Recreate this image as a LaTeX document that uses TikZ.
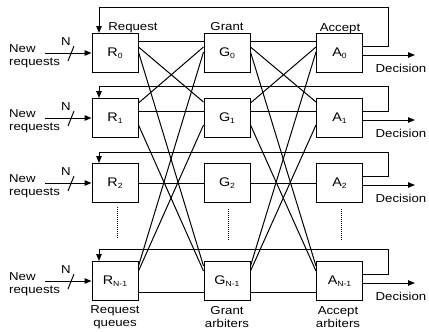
\documentclass[tikz,border=0pt]{standalone}
\usepackage{fontspec}
\setmainfont{Liberation Sans}[FakeStretch=1.15]
\usetikzlibrary{arrows.meta,calc}
\newcommand{\mysub}[1]{\raisebox{-0.3ex}{\fontsize{7.5}{7.5}\selectfont #1}}
\begin{document}
\begin{tikzpicture}[x=1pt,y=-1pt,
  box/.style={draw,line width=1pt,minimum width=46pt,minimum height=39pt,inner sep=0pt,font=\fontsize{12.5}{13}\selectfont},
  ln/.style={line width=1pt},
  arr/.style={ln,-{Triangle[length=7pt,width=5.5pt]}},
  lab/.style={font=\fontsize{11.5}{12.5}\selectfont,align=center,inner sep=0pt},
  dots/.style={densely dotted,line width=1pt}
]
\useasboundingbox (0,0) rectangle (429,332);

% boxes
\node[box] (R0) at (115,53) {R\mysub{0}};
\node[box] (R1) at (115,118) {R\mysub{1}};
\node[box] (R2) at (115,183) {R\mysub{2}};
\node[box] (RN) at (115,281) {R\mysub{N-1}};
\node[box] (G0) at (227,53) {G\mysub{0}};
\node[box] (G1) at (227,118) {G\mysub{1}};
\node[box] (G2) at (227,183) {G\mysub{2}};
\node[box] (GN) at (227,281) {G\mysub{N-1}};
\node[box] (A0) at (339.5,53) {A\mysub{0}};
\node[box] (A1) at (339.5,118) {A\mysub{1}};
\node[box] (A2) at (339.5,183) {A\mysub{2}};
\node[box] (AN) at (339.5,281) {A\mysub{N-1}};

% request -> grant links
\draw[ln] ([yshift=12pt]R0.east) -- ([yshift=12pt]G0.west);
\draw[ln] ([yshift=6pt]R0.east) -- ([yshift=16pt]G1.west);
\draw[ln] ([yshift=1pt]R0.east) -- ([yshift=15pt]GN.west);
\draw[ln] ([yshift=15pt]R1.east) -- ([yshift=6pt]G0.west);
\draw[ln] ([yshift=7pt]R1.east) -- ([yshift=7pt]G1.west);
\draw[ln] ([yshift=-7pt]R1.east) -- ([yshift=10pt]GN.west);
\draw[ln] (R2.east) -- (G2.west);
\draw[ln] ([yshift=15pt]RN.east) -- ([yshift=1pt]G0.west);
\draw[ln] ([yshift=10pt]RN.east) -- ([yshift=-7pt]G1.west);
\draw[ln] ([yshift=-11pt]RN.east) -- ([yshift=-11pt]GN.west);

% grant -> accept links
\draw[ln] ([yshift=12pt]G0.east) -- ([yshift=12pt]A0.west);
\draw[ln] ([yshift=6pt]G0.east) -- ([yshift=16pt]A1.west);
\draw[ln] ([yshift=1pt]G0.east) -- ([yshift=15pt]AN.west);
\draw[ln] ([yshift=15pt]G1.east) -- ([yshift=6pt]A0.west);
\draw[ln] ([yshift=7pt]G1.east) -- ([yshift=7pt]A1.west);
\draw[ln] ([yshift=-7pt]G1.east) -- ([yshift=10pt]AN.west);
\draw[ln] (G2.east) -- (A2.west);
\draw[ln] ([yshift=15pt]GN.east) -- ([yshift=1pt]A0.west);
\draw[ln] ([yshift=10pt]GN.east) -- ([yshift=-7pt]A1.west);
\draw[ln] ([yshift=-11pt]GN.east) -- ([yshift=-11pt]AN.west);

% feedback loops
\coordinate (F0) at (388,7);
\coordinate (F1) at (388,86);
\coordinate (F2) at (388,152);
\coordinate (FN) at (388,249);
\draw[arr] ([yshift=7pt]A0.east) -| (F0) -| ([xshift=-16pt]R0.north);
\draw[arr] ([yshift=7pt]A1.east) -| (F1) -| ([xshift=-16pt]R1.north);
\draw[arr] ([yshift=7pt]A2.east) -| (F2) -| ([xshift=-16pt]R2.north);
\draw[arr] ([yshift=7pt]AN.east) -| (FN) -| ([xshift=-16pt]RN.north);

% decisions
\coordinate (D0) at (415,55);
\coordinate (D1) at (415,120);
\coordinate (D2) at (415,185);
\coordinate (DN) at (415,283);
\draw[arr] ([yshift=-2pt]A0.east) -- (D0);
\draw[arr] ([yshift=-2pt]A1.east) -- (D1);
\draw[arr] ([yshift=-2pt]A2.east) -- (D2);
\draw[arr] ([yshift=-2pt]AN.east) -- (DN);
\node[lab] (dec0) at (401,68) {Decision};
\node[lab] (dec1) at (401,133) {Decision};
\node[lab] (dec2) at (401,198) {Decision};
\node[lab] (decN) at (401,296) {Decision};

% inputs
\coordinate (I0) at (45,53);
\coordinate (I1) at (45,118);
\coordinate (I2) at (45,183);
\coordinate (IN) at (45,281);
\draw[arr] (I0) -- (R0.west);
\draw[arr] (I1) -- (R1.west);
\draw[arr] (I2) -- (R2.west);
\draw[arr] (IN) -- (RN.west);
\foreach \c in {53,118,183,281}{
  \draw[ln] (68,\c+8) -- (74,\c-7);
}
\node[lab] (n0) at (66,42) {N};
\node[lab] (n1) at (66,107) {N};
\node[lab] (n2) at (66,172) {N};
\node[lab] (nN) at (66,270) {N};
\node[lab,align=left,anchor=west] (new0) at (9,56) {New\\requests};
\node[lab,align=left,anchor=west] (new1) at (9,121) {New\\requests};
\node[lab,align=left,anchor=west] (new2) at (9,186) {New\\requests};
\node[lab,align=left,anchor=west] (newN) at (9,284) {New\\requests};

% column titles
\node[lab] (treq) at (133,28) {Request};
\node[lab] (tgr) at (227,27) {Grant};
\node[lab] (tacc) at (340,29) {Accept};
\node[lab] (breq) at (115,317) {Request\\queues};
\node[lab] (bgr) at (227,317) {Grant\\arbiters};
\node[lab] (bacc) at (338,317) {Accept\\arbiters};

% ellipsis dots
\draw[dots] (117,207) -- (117,239);
\draw[dots] (228,209) -- (228,240);
\draw[dots] (341,209) -- (341,240);
\end{tikzpicture}
\end{document}
